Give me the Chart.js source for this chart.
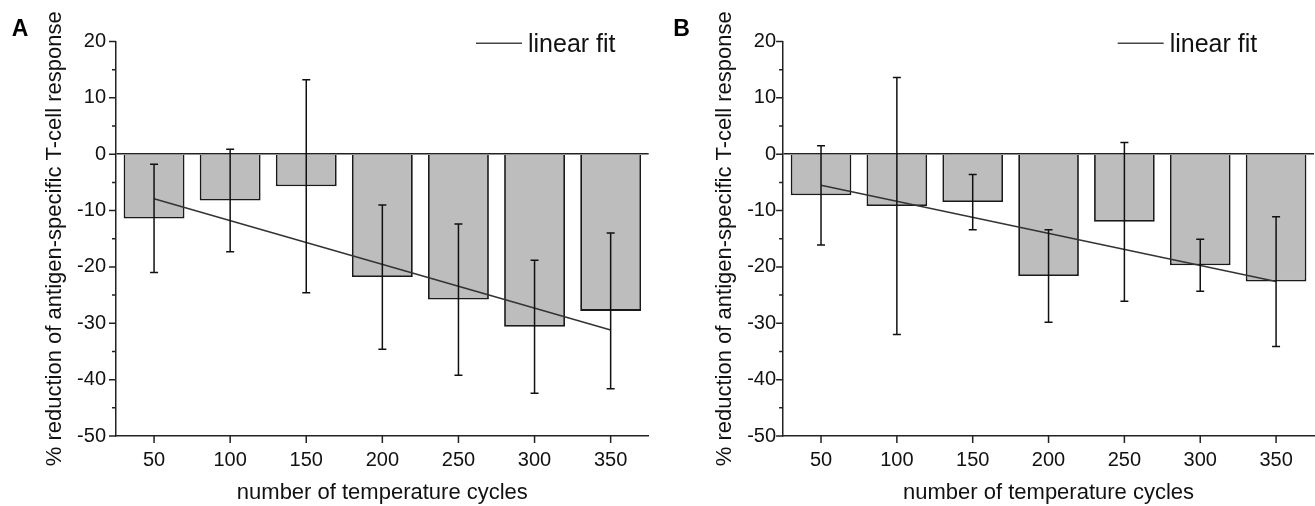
<!DOCTYPE html>
<html>
<head>
<meta charset="utf-8">
<script src="https://cdn.jsdelivr.net/npm/chart.js@4"></script>
<style>
  body { margin: 0; background: #fff; }
  #wrap { position: relative; width: 1315px; height: 506px; }
  canvas { position: absolute; top: 0; }
  #chartA { left: 0; }
  #chartB { left: 660px; }
</style>
</head>
<body>
<div id="wrap">
  <canvas id="chartA" width="660" height="506"></canvas>
  <canvas id="chartB" width="655" height="506"></canvas>
</div>
<script>
// ---- data ----
const cycles = [50, 100, 150, 200, 250, 300, 350];

// panel A: mean % reduction and SD
const meanA = [-11.4, -8.2, -5.7, -21.8, -25.8, -30.6, -27.8];
const sdA   = [9.6, 9.1, 18.9, 12.8, 13.4, 11.8, 13.8];

// panel B
const meanB = [-7.3, -9.2, -8.5, -21.6, -12.0, -19.7, -22.6];
const sdB   = [8.8, 22.8, 4.9, 8.2, 14.1, 4.6, 11.5];

// linear fit end points
const fitX = [50, 350];
const fitA = [-7.9, -31.2];
const fitB = [-5.5, -22.6];

const yMin = -50, yMax = 20;
const xMin = 25, xMax = 375;

const FONT = "'Liberation Sans', Arial, sans-serif";
const INK = '#111';

// error bars, minor/major ticks, legend and panel letter
const panelDecor = {
    id: 'panelDecor',
    afterDatasetsDraw(chart, args, opts) {
        const ctx = chart.ctx;
        const xs = chart.scales.x, ys = chart.scales.y;
        ctx.save();
        ctx.strokeStyle = '#111';
        ctx.lineWidth = 1.5;
        opts.mean.forEach((m, i) => {
            const x = xs.getPixelForValue(cycles[i]);
            const yTop = ys.getPixelForValue(m + opts.sd[i]);
            const yBot = ys.getPixelForValue(m - opts.sd[i]);
            ctx.beginPath();
            ctx.moveTo(x, yTop); ctx.lineTo(x, yBot);
            ctx.moveTo(x - 4, yTop); ctx.lineTo(x + 4, yTop);
            ctx.moveTo(x - 4, yBot); ctx.lineTo(x + 4, yBot);
            ctx.stroke();
        });
        ctx.restore();
    },
    afterDraw(chart, args, opts) {
        const ctx = chart.ctx;
        const xs = chart.scales.x, ys = chart.scales.y;
        const area = chart.chartArea;
        ctx.save();
        ctx.strokeStyle = '#222';
        ctx.lineWidth = 1.5;
        ctx.beginPath();
        ys.ticks.forEach(t => {
            const y = ys.getPixelForValue(t.value);
            const len = t.value % 10 === 0 ? 7 : 4;
            ctx.moveTo(area.left - len, y); ctx.lineTo(area.left, y);
        });
        xs.ticks.forEach(t => {
            const x = xs.getPixelForValue(t.value);
            ctx.moveTo(x, area.bottom); ctx.lineTo(x, area.bottom + 7);
        });
        ctx.stroke();

        // legend
        ctx.strokeStyle = '#444';
        ctx.beginPath();
        ctx.moveTo(opts.legendX, opts.legendY);
        ctx.lineTo(opts.legendX + 46, opts.legendY);
        ctx.stroke();
        ctx.fillStyle = INK;
        ctx.font = `25px ${FONT}`;
        ctx.textBaseline = 'alphabetic';
        ctx.fillText('linear fit', opts.legendX + 52, opts.legendY + 8.5);

        // panel letter
        ctx.font = `bold 23px ${FONT}`;
        ctx.fillStyle = '#000';
        ctx.fillText(opts.letter, opts.letterX, 36);
        ctx.restore();
    }
};

function makePanel(id, p) {
    const ctx = document.getElementById(id).getContext('2d');
    return new Chart(ctx, {
        type: 'bar',
        data: {
            datasets: [
                {
                    type: 'line',
                    label: 'linear fit',
                    data: fitX.map((x, i) => ({ x: x, y: p.fit[i] })),
                    borderColor: '#333',
                    borderWidth: 1.5,
                    pointRadius: 0,
                    order: 0
                },
                {
                    type: 'bar',
                    label: 'mean',
                    data: cycles.map((x, i) => ({ x: x, y: p.mean[i] })),
                    backgroundColor: '#bdbdbd',
                    borderColor: '#1a1a1a',
                    borderWidth: 1.8,
                    barPercentage: 1,
                    categoryPercentage: 0.8,
                    order: 1
                }
            ]
        },
        options: {
            responsive: false,
            animation: false,
            events: [],
            layout: { padding: { top: 41.5, right: p.right, left: 0, bottom: 0 } },
            plugins: {
                legend: { display: false },
                tooltip: { enabled: false },
                panelDecor: {
                    mean: p.mean, sd: p.sd, letter: p.letter, letterX: p.letterX,
                    legendX: p.legendX, legendY: 43.3
                }
            },
            scales: {
                x: {
                    type: 'linear',
                    min: xMin,
                    max: xMax,
                    offset: false,
                    afterBuildTicks: s => { s.ticks = cycles.map(v => ({ value: v })); },
                    afterFit: s => { s.height = 70; },
                    grid: { display: false, drawTicks: false, offset: false },
                    border: { display: true, color: '#222', width: 1.5 },
                    ticks: { padding: 12, color: INK, font: { family: FONT, size: 20 }, maxRotation: 0 },
                    title: {
                        display: true,
                        text: 'number of temperature cycles',
                        color: INK,
                        font: { family: FONT, size: 22 },
                        padding: { top: 0, bottom: 0 }
                    }
                },
                y: {
                    min: yMin,
                    max: yMax,
                    afterFit: s => { s.width = p.axisLeft; },
                    ticks: {
                        stepSize: 5,
                        padding: p.labelGap,
                        color: INK,
                        font: { family: FONT, size: 20 },
                        callback: v => (v % 10 === 0 ? v : '')
                    },
                    grid: {
                        drawTicks: false,
                        lineWidth: 1.5,
                        color: c => (c.tick && c.tick.value === 0 ? '#222' : 'rgba(0,0,0,0)')
                    },
                    border: { display: true, color: '#222', width: 1.5 },
                    title: {
                        display: true,
                        text: '% reduction of antigen-specific T-cell response',
                        color: INK,
                        font: { family: FONT, size: 22 },
                        padding: { top: p.titlePad, bottom: 0 }
                    }
                }
            }
        },
        plugins: [panelDecor]
    });
}

makePanel('chartA', {
    mean: meanA, sd: sdA, fit: fitA, letter: 'A', letterX: 11.7,
    axisLeft: 116, right: 11.3, labelGap: 10, titlePad: 41.5, legendX: 476
});
makePanel('chartB', {
    mean: meanB, sd: sdB, fit: fitB, letter: 'B', letterX: 13.3,
    axisLeft: 123.1, right: 1, labelGap: 7, titlePad: 51.5, legendX: 457.7
});
</script>
</body>
</html>
